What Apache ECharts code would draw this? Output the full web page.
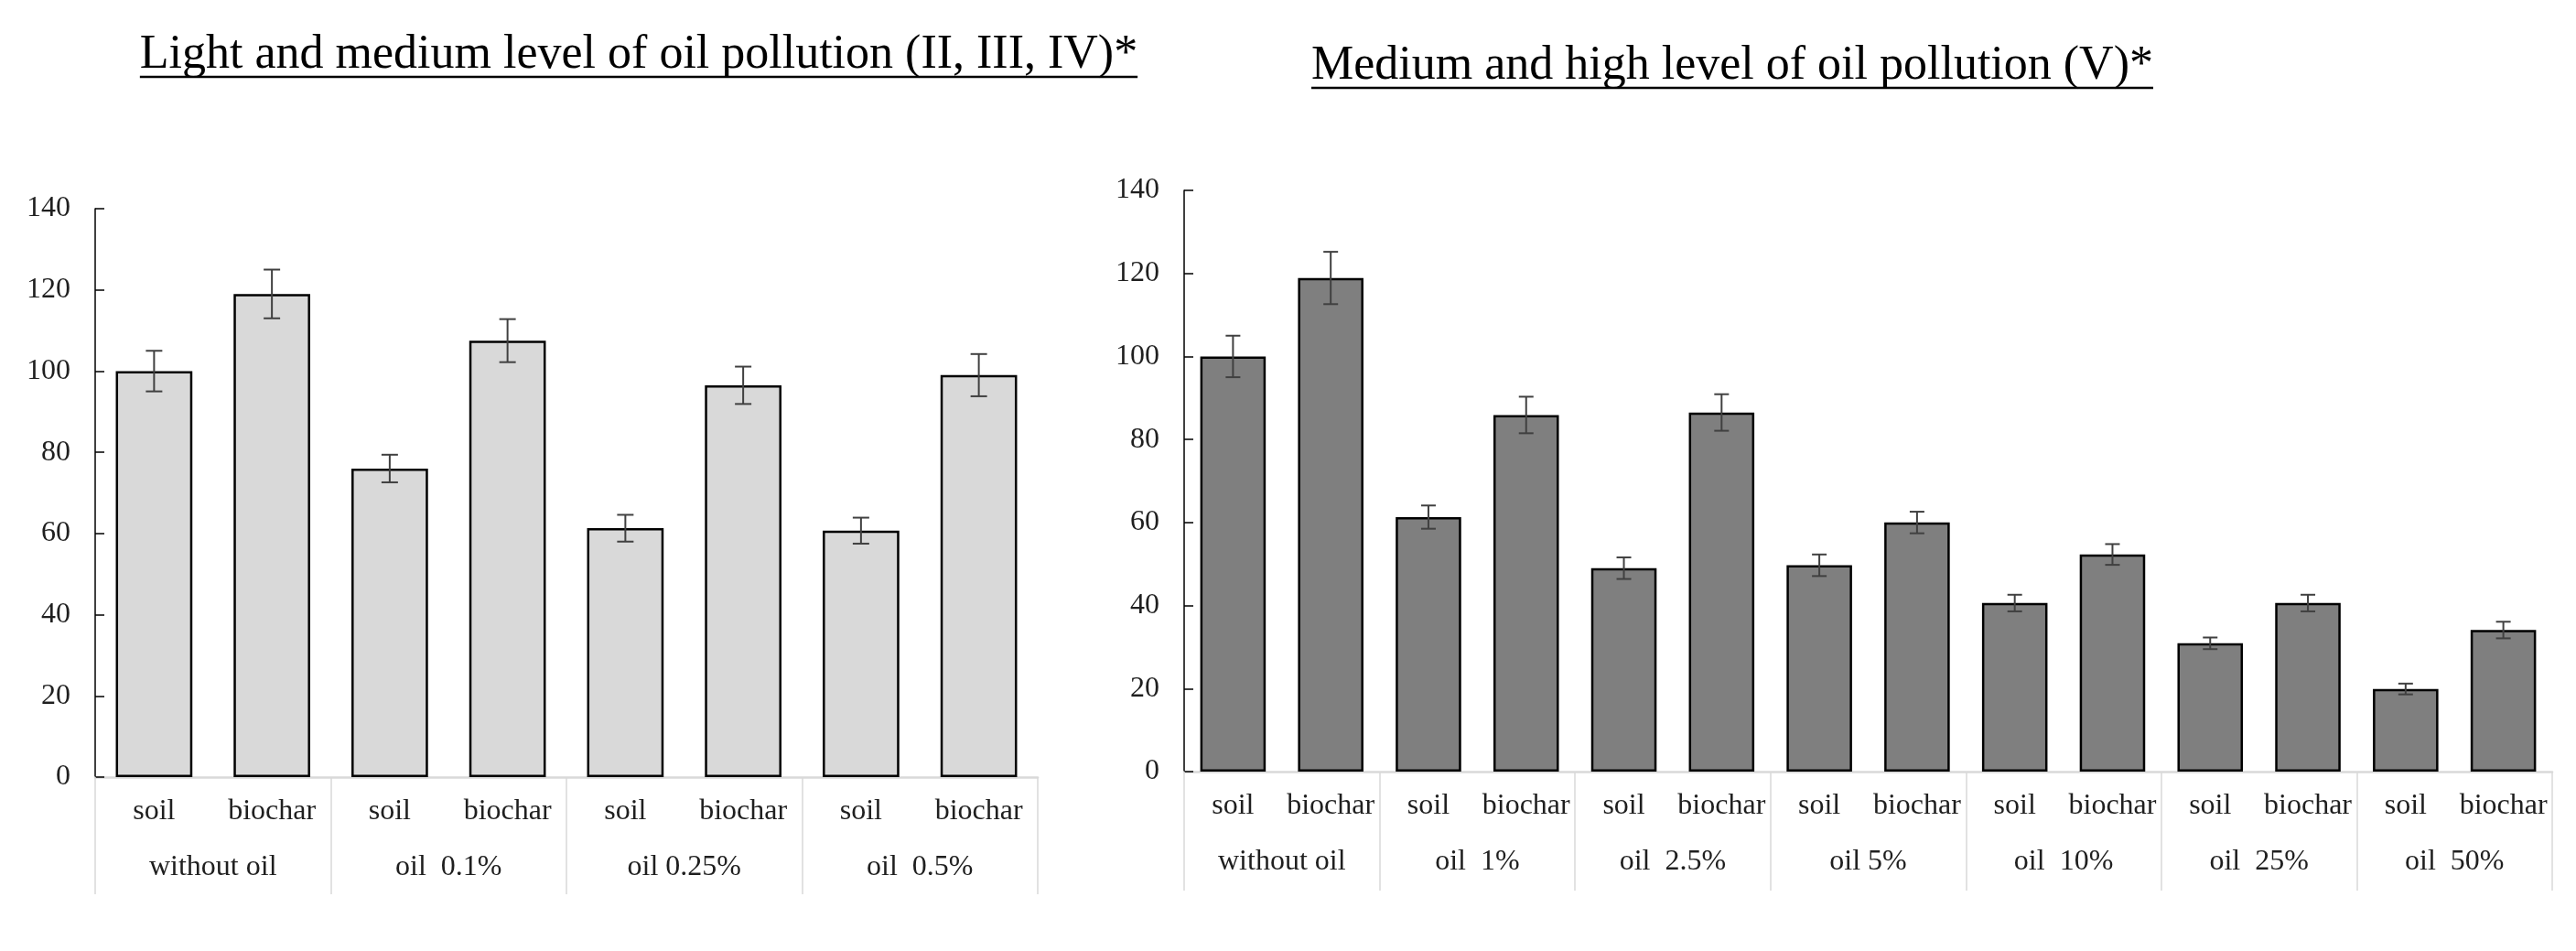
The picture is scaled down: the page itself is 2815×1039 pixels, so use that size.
<!DOCTYPE html>
<html>
<head>
<meta charset="utf-8">
<script src="https://cdn.jsdelivr.net/npm/echarts@6/dist/echarts.min.js"></script>
<style>
html,body{margin:0;padding:0;background:#fff;}
#chart{width:2815px;height:1039px;}
</style>
</head>
<body>
<div id="chart"></div>
<script>
// ---- data ----
var leftTitle = 'Light and medium level of oil pollution (II, III, IV)*';
var rightTitle = 'Medium and high level of oil pollution (V)*';
var leftCategories = ['soil','biochar','soil','biochar','soil','biochar','soil','biochar'];
var leftGroups = ['without oil','oil  0.1%','oil 0.25%','oil  0.5%'];
var leftValues = [100, 119, 76, 107.5, 61.3, 96.5, 60.7, 99];
var leftErrors = [5, 6, 3.4, 5.3, 3.3, 4.6, 3.2, 5.2];
var rightCategories = ['soil','biochar','soil','biochar','soil','biochar','soil','biochar','soil','biochar','soil','biochar','soil','biochar'];
var rightGroups = ['without oil','oil  1%','oil  2.5%','oil 5%','oil  10%','oil  25%','oil  50%'];
var rightValues = [100, 118.9, 61.3, 85.9, 49, 86.5, 49.7, 60, 40.6, 52.3, 30.9, 40.6, 19.9, 34.1];
var rightErrors = [5, 6.3, 2.8, 4.4, 2.6, 4.4, 2.6, 2.6, 2, 2.5, 1.4, 2, 1.3, 2];
var yTicks = [0, 20, 40, 60, 80, 100, 120, 140];

// ---- styles ----
var FONT = 'Liberation Serif';
var TXT = '#1f1f1f';
var GRID_GREY = '#d9d9d9';

function measure(text, size) {
  var c = document.createElement('canvas').getContext('2d');
  c.font = size + 'px "' + FONT + '"';
  return c.measureText(text).width;
}

function yAxis(gridIndex) {
  return {
    type: 'value', gridIndex: gridIndex,
    min: yTicks[0], max: yTicks[yTicks.length - 1], interval: yTicks[1] - yTicks[0],
    axisLine: {show: true, lineStyle: {color: '#000', width: 1.5}},
    axisTick: {show: true, inside: true, length: 10, lineStyle: {color: '#000', width: 1.5}},
    axisLabel: {margin: 27, fontFamily: FONT, fontSize: 32, color: TXT},
    splitLine: {show: false}
  };
}

function catAxis(gridIndex, cats) {
  return {
    type: 'category', gridIndex: gridIndex, data: cats, position: 'bottom',
    axisLine: {show: true, lineStyle: {color: GRID_GREY, width: 2.5}},
    axisTick: {show: false},
    axisLabel: {margin: 22, interval: 0, fontFamily: FONT, fontSize: 32, color: TXT},
    splitLine: {show: false}
  };
}

function groupAxis(gridIndex, groups, tickLen, margin) {
  return {
    type: 'category', gridIndex: gridIndex, data: groups, position: 'bottom',
    axisLine: {show: false},
    axisTick: {show: true, interval: 0, length: tickLen, lineStyle: {color: GRID_GREY, width: 1.5}},
    axisLabel: {margin: margin, interval: 0, fontFamily: FONT, fontSize: 32, color: TXT},
    splitLine: {show: false}
  };
}

function barSeries(axisIdx, values, color, gap) {
  return {
    type: 'bar', xAxisIndex: axisIdx, yAxisIndex: axisIdx === 0 ? 0 : 1,
    data: values, barCategoryGap: gap,
    itemStyle: {color: color, borderColor: '#000', borderWidth: 2.5},
    silent: true, z: 2
  };
}

function errSeries(axisIdx, values, errors, capW) {
  var data = values.map(function (v, i) { return [i, v, errors[i]]; });
  return {
    type: 'custom', xAxisIndex: axisIdx, yAxisIndex: axisIdx === 0 ? 0 : 1,
    data: data, z: 5, silent: true,
    renderItem: function (params, api) {
      var x = api.value(0), v = api.value(1), e = api.value(2);
      var hi = api.coord([x, v + e]);
      var lo = api.coord([x, v - e]);
      var st = {stroke: '#404040', lineWidth: 2};
      return {
        type: 'group',
        children: [
          {type: 'line', shape: {x1: hi[0], y1: hi[1], x2: lo[0], y2: lo[1]}, style: st},
          {type: 'line', shape: {x1: hi[0] - capW / 2, y1: hi[1], x2: hi[0] + capW / 2, y2: hi[1]}, style: st},
          {type: 'line', shape: {x1: lo[0] - capW / 2, y1: lo[1], x2: lo[0] + capW / 2, y2: lo[1]}, style: st}
        ]
      };
    }
  };
}

var chart = echarts.init(document.getElementById('chart'), null, {renderer: 'canvas'});

var lw = measure(leftTitle, 52), rw = measure(rightTitle, 52);
var lcx = 698, rcx = 1893;

var option = {
  backgroundColor: '#fff',
  animation: false,
  grid: [
    {left: 104, right: 2815 - 1134, top: 228, bottom: 1039 - 849, containLabel: false},
    {left: 1294, right: 2815 - 2789, top: 208, bottom: 1039 - 843, containLabel: false}
  ],
  xAxis: [
    catAxis(0, leftCategories),
    catAxis(1, rightCategories),
    groupAxis(0, leftGroups, 128, 83),
    groupAxis(1, rightGroups, 130, 83)
  ],
  yAxis: [yAxis(0), yAxis(1)],
  series: [
    barSeries(0, leftValues, '#d9d9d9', '35%'),
    errSeries(0, leftValues, leftErrors, 18),
    barSeries(1, rightValues, '#7f7f7f', '33%'),
    errSeries(1, rightValues, rightErrors, 16)
  ],
  graphic: [
    {type: 'text', x: lcx, y: 60, style: {text: leftTitle, align: 'center', verticalAlign: 'middle', font: '52px "' + FONT + '"', fill: '#000'}},
    {type: 'line', shape: {x1: lcx - lw / 2, y1: 84, x2: lcx + lw / 2, y2: 84}, style: {stroke: '#000', lineWidth: 2.5}},
    {type: 'text', x: rcx, y: 72, style: {text: rightTitle, align: 'center', verticalAlign: 'middle', font: '52px "' + FONT + '"', fill: '#000'}},
    {type: 'line', shape: {x1: rcx - rw / 2, y1: 96, x2: rcx + rw / 2, y2: 96}, style: {stroke: '#000', lineWidth: 2.5}}
  ]
};
chart.setOption(option);
</script>
</body>
</html>
